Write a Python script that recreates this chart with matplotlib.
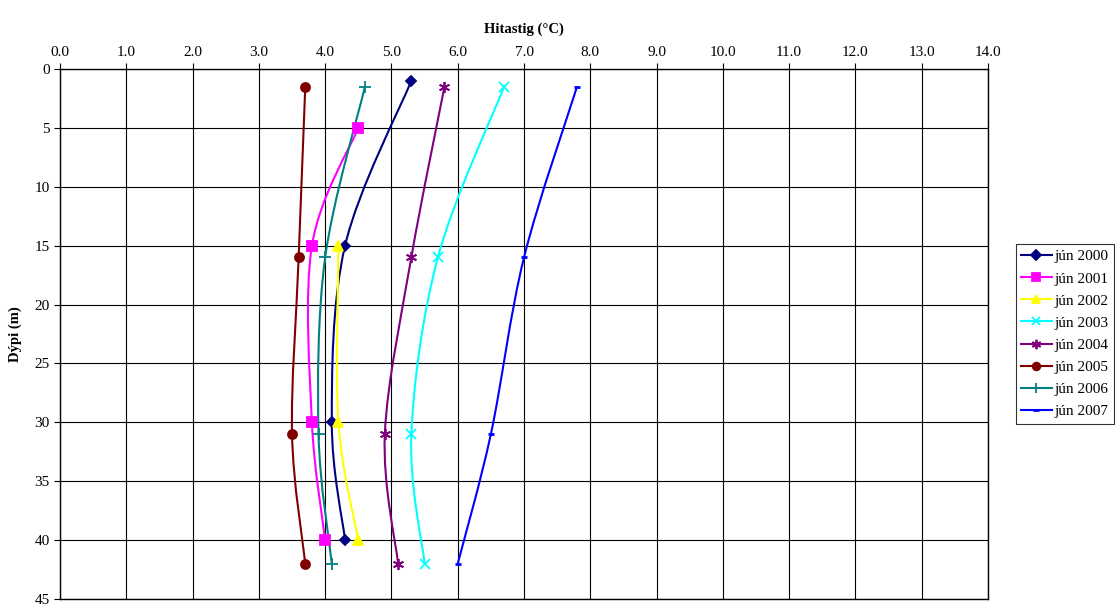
import matplotlib
matplotlib.use('Agg')
import matplotlib.pyplot as plt
from matplotlib.path import Path
from matplotlib.patches import PathPatch
from matplotlib.lines import Line2D

plt.rcParams['font.family'] = ['Liberation Serif', 'DejaVu Serif']

# temperature (x) and depth (y) per series
labels = ['jún 2000', 'jún 2001', 'jún 2002', 'jún 2003',
          'jún 2004', 'jún 2005', 'jún 2006', 'jún 2007']
temp_2000 = [5.3, 4.3, 4.1, 4.3]
depth_2000 = [1, 15, 30, 40]
temp_2001 = [4.5, 3.8, 3.8, 4.0]
depth_2001 = [5, 15, 30, 40]
temp_2002 = [4.2, 4.2, 4.5]
depth_2002 = [15, 30, 40]
temp_2003 = [6.7, 5.7, 5.3, 5.5]
depth_2003 = [1.5, 16, 31, 42]
temp_2004 = [5.8, 5.3, 4.9, 5.1]
depth_2004 = [1.5, 16, 31, 42]
temp_2005 = [3.7, 3.6, 3.5, 3.7]
depth_2005 = [1.5, 16, 31, 42]
temp_2006 = [4.6, 4.0, 3.9, 4.1]
depth_2006 = [1.5, 16, 31, 42]
temp_2007 = [7.8, 7.0, 6.5, 6.0]
depth_2007 = [1.5, 16, 31, 42]

temps = [temp_2000, temp_2001, temp_2002, temp_2003,
         temp_2004, temp_2005, temp_2006, temp_2007]
depths = [depth_2000, depth_2001, depth_2002, depth_2003,
          depth_2004, depth_2005, depth_2006, depth_2007]

colors = ['#000080', '#FF00FF', '#FFFF00', '#00FFFF',
          '#800080', '#800000', '#008080', '#0000FF']
markers = ['D', 's', '^', 'x', (6, 2, 0), 'o', '+', '_']
msizes = [5.5, 6.5, 6.5, 7, 8, 6.5, 8, 5]


def smooth_path(xs, ys):
    # Excel-style smoothed line: bezier segments through the points
    pts = list(zip(xs, ys))
    verts = [pts[0]]
    codes = [Path.MOVETO]
    n = len(pts)
    for i in range(n - 1):
        p0 = pts[i - 1] if i > 0 else pts[i]
        p1 = pts[i]
        p2 = pts[i + 1]
        p3 = pts[i + 2] if i + 2 < n else pts[i + 1]
        c1 = (p1[0] + (p2[0] - p0[0]) / 6, p1[1] + (p2[1] - p0[1]) / 6)
        c2 = (p2[0] - (p3[0] - p1[0]) / 6, p2[1] - (p3[1] - p1[1]) / 6)
        verts += [c1, c2, p2]
        codes += [Path.CURVE4] * 3
    return Path(verts, codes)


fig = plt.figure(figsize=(11.16, 6.04), dpi=100)
ax = fig.add_axes([0.0538, 0.0083, 0.8315, 0.8775])

handles = []
for t, d, c, m, ms, lab in zip(temps, depths, colors, markers, msizes, labels):
    ax.add_patch(PathPatch(smooth_path(t, d), fill=False, edgecolor=c, lw=1.5, zorder=3))
    mew = 2 if m == '_' else 1.3
    ax.plot(t, d, linestyle='none', marker=m, color=c, markersize=ms,
            markeredgewidth=mew, zorder=4)
    handles.append(Line2D([], [], color=c, lw=1.5, marker=m, markersize=ms * 0.85,
                          markeredgewidth=mew, label=lab))

ax.set_xlim(0, 14)
ax.set_ylim(45, 0)
ax.set_xticks(range(0, 15))
ax.set_xticklabels([f'{v:.1f}' for v in range(0, 15)])
ax.set_yticks(range(0, 50, 5))
ax.xaxis.tick_top()
ax.xaxis.set_label_position('top')
ax.tick_params(labelsize=11, direction='out', length=4, color='black')
ax.grid(True, color='black', lw=0.8)
ax.set_axisbelow(True)
for s in ax.spines.values():
    s.set_color('black')
    s.set_linewidth(1.0)

ax.set_xlabel('Hitastig (°C)', fontweight='bold', fontsize=10.5, labelpad=9)
ax.set_ylabel('Dýpi (m)', fontweight='bold', fontsize=10.5, labelpad=9)

leg = ax.legend(handles=handles, loc='center left', bbox_to_anchor=(1.03, 0.5),
                fontsize=11, frameon=True, fancybox=False, edgecolor='black',
                handlelength=2.0, handletextpad=0.2, labelspacing=0.55,
                borderpad=0.35, borderaxespad=0.0)
leg.get_frame().set_linewidth(0.8)

fig.savefig('out.png', dpi=100)
